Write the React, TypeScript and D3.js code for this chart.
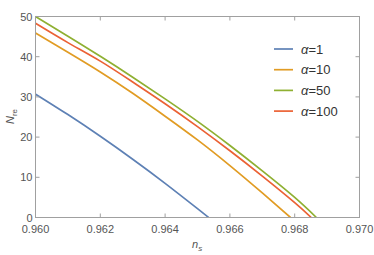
import React from "react";
import * as d3 from "d3";

const nsAlpha1 = [0.960, 0.961, 0.962, 0.963, 0.964, 0.965, 0.96534];
const nAlpha1 = [30.7, 25.6, 20.2, 14.5, 8.5, 2.2, 0];

const nsAlpha10 = [0.960, 0.961, 0.962, 0.963, 0.964, 0.965, 0.966, 0.967, 0.96787];
const nAlpha10 = [45.9, 41.1, 36.2, 30.9, 25.2, 19.3, 12.9, 6.1, 0];

const nsAlpha50 = [0.960, 0.961, 0.962, 0.963, 0.964, 0.965, 0.966, 0.967, 0.968, 0.96867];
const nAlpha50 = [50, 45.1, 40.1, 34.9, 29.5, 23.9, 17.9, 11.6, 5.0, 0];

const nsAlpha100 = [0.960, 0.961, 0.962, 0.963, 0.964, 0.965, 0.966, 0.967, 0.968, 0.96851];
const nAlpha100 = [48.3, 43.5, 38.9, 33.7, 28.3, 22.6, 16.6, 10.3, 3.7, 0];

const seriesLabels = ["1", "10", "50", "100"];
const seriesColors = ["#5E81B5", "#E19C24", "#8FB032", "#EB6235"];
const xTicks = [0.960, 0.962, 0.964, 0.966, 0.968, 0.970];
const yTicks = [0, 10, 20, 30, 40, 50];

const W = 374, H = 255;
const left = 35.5, right = 359.5, top = 16.5, bottom = 217.5;

export default function App() {
  const x = d3.scaleLinear().domain([0.960, 0.970]).range([left, right]);
  const y = d3.scaleLinear().domain([0, 50]).range([bottom, top]);
  const line = d3.line<[number, number]>().x(d => x(d[0])).y(d => y(d[1])).curve(d3.curveNatural);
  const series = [
    [nsAlpha1, nAlpha1],
    [nsAlpha10, nAlpha10],
    [nsAlpha50, nAlpha50],
    [nsAlpha100, nAlpha100],
  ];
  const frame = "#A0A0A0";
  const textCol = "#555";
  const font = "'Liberation Sans', Arial, sans-serif";
  return (
    <svg width={W} height={H} style={{ position: "absolute", left: 0, top: 0, background: "#fff" }} fontFamily={font}>
      <defs>
        <clipPath id="plotclip">
          <rect x={left} y={top - 5} width={right - left} height={bottom - top + 5} />
        </clipPath>
      </defs>
      <g clipPath="url(#plotclip)">
        {series.map(([xs, ys], i) => (
          <path key={i} d={line(xs.map((v, j) => [v, ys[j]] as [number, number])) || ""}
            fill="none" stroke={seriesColors[i]} strokeWidth={1.7} />
        ))}
      </g>
      <rect x={left} y={top} width={right - left} height={bottom - top} fill="none" stroke={frame} strokeWidth={1} />
      {xTicks.map((t, i) => (
        <g key={"x" + i}>
          <line x1={x(t)} x2={x(t)} y1={bottom} y2={bottom - 4} stroke={frame} />
          <line x1={x(t)} x2={x(t)} y1={top} y2={top + 4} stroke={frame} />
          <text x={x(t)} y={bottom + 15} fontSize={11} fill={textCol} textAnchor="middle">{t.toFixed(3)}</text>
        </g>
      ))}
      {yTicks.map((t, i) => (
        <g key={"y" + i}>
          <line x1={left} x2={left + 4} y1={y(t)} y2={y(t)} stroke={frame} />
          <line x1={right} x2={right - 4} y1={y(t)} y2={y(t)} stroke={frame} />
          <text x={left - 3} y={y(t) + 4} fontSize={11} fill={textCol} textAnchor="end">{t}</text>
        </g>
      ))}
      <text x={192} y={248} fontSize={11} fill={textCol} fontStyle="italic">n<tspan fontSize={8} dy={2.5}>s</tspan></text>
      <text transform={`translate(14,124) rotate(-90)`} fontSize={11} fill={textCol}>
        <tspan fontStyle="italic">N</tspan><tspan fontSize={8} dy={2.5}>re</tspan>
      </text>
      {seriesLabels.map((s, i) => (
        <g key={"l" + i}>
          <line x1={274} x2={293} y1={49 + i * 20.7} y2={49 + i * 20.7} stroke={seriesColors[i]} strokeWidth={1.7} />
          <text x={301} y={49 + i * 20.7 + 4.5} fontSize={13} fill="#333">
            <tspan fontStyle="italic">α</tspan>={s}
          </text>
        </g>
      ))}
    </svg>
  );
}
